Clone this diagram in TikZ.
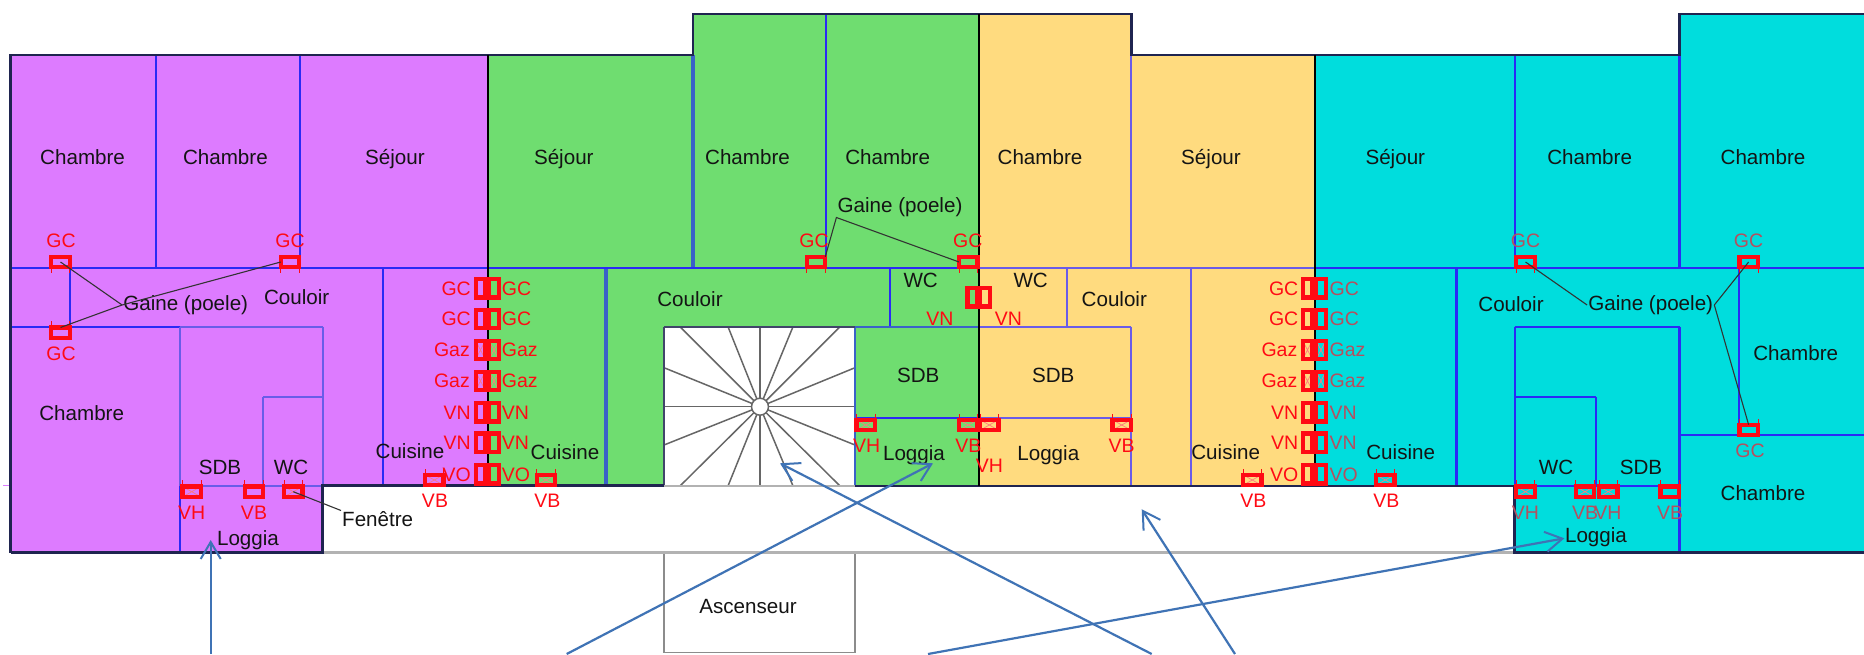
\documentclass[tikz,border=0pt]{standalone}
\usepackage{fontspec}
\setmainfont{Liberation Sans}
\usetikzlibrary{arrows.meta}
\definecolor{cpurple}{HTML}{DD7BFF}
\definecolor{cgreen}{HTML}{6FDD70}
\definecolor{cyellow}{HTML}{FFDB7F}
\definecolor{ccyan}{HTML}{00DDDD}
\definecolor{wallblue}{HTML}{2A2AF5}
\definecolor{softblue}{HTML}{6A5CE8}
\definecolor{thickblue}{HTML}{3A62C8}
\definecolor{darkwall}{HTML}{1F2450}
\definecolor{arrowblue}{HTML}{3F73B5}
\definecolor{greyline}{HTML}{8C8C8C}
\definecolor{mutedred}{HTML}{B5505F}
\definecolor{boxred}{HTML}{FF0A14}
\tikzset{
  room/.style={font=\fontsize{20.6}{24}\selectfont,text=black!92,inner sep=1pt},
  lab/.style={font=\fontsize{19.5}{22}\selectfont,text=boxred,inner sep=0pt},
  labc/.style={lab,text=mutedred},
  wall/.style={draw=wallblue,line width=2.1pt},
  softwall/.style={draw=softblue,line width=2.1pt},
  thickwall/.style={draw=thickblue,line width=3.6pt},
  outer/.style={draw=darkwall,line width=2.8pt},
  border/.style={draw=black,line width=2pt},
  grey/.style={draw=greyline,line width=1.6pt},
  lightgrey/.style={draw=black!30,line width=3pt},
  leader/.style={draw=black!80,line width=1.1pt},
  pointer/.style={draw=arrowblue,line width=2.2pt,-{Straight Barb[length=17pt,width=20pt,line width=2pt]}},
  basebox/.style={draw=boxred,line width=4.4pt,inner sep=0pt,outer sep=0pt,rectangle},
  hb/.style={basebox,minimum width=18.5pt,minimum height=10.5pt},
  vb/.style={basebox,minimum width=9.5pt,minimum height=18.5pt},
  xed/.style={path picture={\draw[boxred!55!white,line width=.7pt]
      (path picture bounding box.south west)--(path picture bounding box.north east)
      (path picture bounding box.north west)--(path picture bounding box.south east);}},
  tickup/.style={append after command={
      (\tikzlastnode.north west) edge[boxred,line width=.7pt] ([yshift=6pt]\tikzlastnode.north west)
      (\tikzlastnode.north east) edge[boxred,line width=.7pt] ([yshift=6pt]\tikzlastnode.north east)}},
  tickdown/.style={append after command={
      (\tikzlastnode.south west) edge[boxred,line width=.7pt] ([yshift=-6pt]\tikzlastnode.south west)
      (\tikzlastnode.south east) edge[boxred,line width=.7pt] ([yshift=-6pt]\tikzlastnode.south east)}},
  stair/.style={draw=black!60,line width=1.5pt},
}
\begin{document}
\begin{tikzpicture}[x=1pt,y=-1pt]
\useasboundingbox (0,0) rectangle (1864,654);
\fill[white] (0,0) rectangle (1864,654);
% apartments
\fill[cpurple] (10.7,55)--(487.5,55)--(487.5,485.7)--(322.7,485.7)--(322.7,552.7)--(10.7,552.7)--cycle;
\fill[cgreen] (487.5,55)--(693,55)--(693,14)--(979,14)--(979,486)--(855,486)--(855,326.7)--(664,326.7)--(664,486)--(487.5,486)--cycle;
\fill[cyellow] (979,14)--(1131.4,14)--(1131.4,55)--(1314.5,55)--(1314.5,486)--(979,486)--cycle;
\fill[ccyan] (1314.5,55)--(1679.5,55)--(1679.5,14)--(1864,14)--(1864,552.7)--(1514.7,552.7)--(1514.7,486)--(1314.5,486)--cycle;
% staircase
\foreach \ex/\ey in {680/326.7,728/326.7,760/326.7,793/326.7,840/326.7,
  664/367.7,664/406.7,664/445,855/367.7,855/406.7,855/445,
  680/486,728/486,760/486,793/486,840/486}
  \draw[stair] (760,406.7)--(\ex,\ey);
\draw[stair,fill=white] (760,406.7) circle (8.5);
% lift and corridor
\draw[grey,line width=1.8pt] (664,552.7)--(664,652.5)--(855,652.5)--(855,552.7);
\draw[lightgrey] (322.7,552.7)--(1514.7,552.7);
\draw[draw=cpurple,line width=.8pt] (3,485.7)--(10.7,485.7);
% inner walls: purple
\draw[wall] (156,55)--(156,268.3) (299.6,55)--(299.6,268.3) (70,268.3)--(70,326.7)
  (10.7,268.3)--(487.5,268.3) (382.7,268.3)--(382.7,485.7) (10.7,326.7)--(180,326.7) (180,485.7)--(180,552.7);
\draw[softwall] (180,326.7)--(322.7,326.7) (180,326.7)--(180,485.7) (322.7,326.7)--(322.7,485.7)
  (263.3,397.3)--(322.7,397.3) (263.3,397.3)--(263.3,485.7) (180,485.7)--(322.7,485.7);
% inner walls: green
\draw[thickwall] (693,55)--(693,268.3) (605.7,268.3)--(605.7,486);
\draw[wall] (826,14)--(826,268.3) (487.5,268.3)--(979,268.3) (890,268.3)--(890,326.7) (855,418.3)--(979,418.3);
\draw[thickblue,line width=2.2pt] (855,326.7)--(979,326.7) (855,326.7)--(855,486);
\draw[draw=darkwall!85!white,line width=1.8pt] (664,326.7)--(855,326.7) (664,326.7)--(664,486);
% inner walls: yellow
\draw[softwall] (1131.4,55)--(1131.4,268.3) (979,268.3)--(1314.5,268.3) (1066.7,268.3)--(1066.7,326.7)
  (979,326.7)--(1131,326.7) (1131,326.7)--(1131,486) (979,418.3)--(1131,418.3) (1190.7,268.3)--(1190.7,486);
% inner walls: cyan
\draw[wall] (1514.7,55)--(1514.7,268.3) (1679.5,14)--(1679.5,268.3) (1314.5,268.3)--(1864,268.3)
  (1456.5,268.3)--(1456.5,486) (1514.7,326.7)--(1514.7,486) (1514.7,326.7)--(1679.5,326.7)
  (1679.5,326.7)--(1679.5,552.7) (1514.7,397.3)--(1596,397.3) (1596,397.3)--(1596,486)
  (1514.7,486)--(1679.5,486) (1679.5,435)--(1864,435) (1738.8,268.3)--(1738.8,435);
% outer walls
\draw[outer] (10.7,552.7)--(10.7,55)--(693,55)--(693,14)--(1131.4,14)--(1131.4,55)--(1679.5,55)--(1679.5,14)--(1864,14);
\draw[outer] (10.7,552.7)--(322.7,552.7)--(322.7,485.7)--(664,485.7);
\draw[outer] (855,486)--(1514.7,486)--(1514.7,552.7)--(1864,552.7);
\draw[lightgrey,line width=1.8pt] (664,486)--(855,486);
\draw[border] (487.5,55)--(487.5,486) (979,14)--(979,486) (1314.5,55)--(1314.5,486);
% ducts on the walls
\node[hb,tickdown] (gc1) at (60.5,262) {};
\node[hb,tickdown] (gc2) at (290,262) {};
\node[hb,tickup] (gc3) at (60.5,332.7) {};
\node[hb,xed,tickup] (pvh) at (191.7,491.7) {};
\node[hb,tickup] (pvb) at (254,491.7) {};
\node[hb,xed,tickup] (fx) at (293.3,491.7) {};
\node[hb,xed,tickup] (pcb) at (434.3,480) {};
\node[hb,tickdown] (gc4) at (816,262) {};
\node[hb,tickdown] (gc5) at (968.3,262) {};
\node[hb,xed,tickup] (gcb) at (546,480) {};
\node[hb,xed,tickup] (gvh) at (865.7,425) {};
\node[hb,xed,tickup] (gvb) at (968.3,425) {};
\node[hb,xed,tickup] (yvh) at (989.3,425) {};
\node[hb,xed,tickup] (yvb) at (1121.7,425) {};
\node[hb,xed,tickup] (ycb) at (1252.3,480) {};
\node[hb,tickdown] (gc6) at (1525.5,262) {};
\node[hb,tickdown] (gc7) at (1748.6,262) {};
\node[hb,tickup] (gc8) at (1748.6,430) {};
\node[hb,xed,tickup] (ccb) at (1385.3,480) {};
\node[hb,xed,tickup] (cvh) at (1525.5,491.7) {};
\node[hb,xed,tickup] (cvb) at (1585,491.7) {};
\node[hb,xed,tickup] (cvh2) at (1608.3,491.7) {};
\node[hb,tickup] (cvb2) at (1669.8,491.7) {};
\node[vb] (vnl) at (972.3,297.3) {};
\node[vb] (vnr) at (985,297.3) {};
% stack purple/green
\node[vb] (a1) at (480.5,288.3) {}; \node[vb] (b1) at (494,288.3) {};
\node[vb] (a2) at (480.5,319) {};   \node[vb] (b2) at (494,319) {};
\node[vb,xed] (a3) at (480.5,350) {}; \node[vb,xed] (b3) at (494,350) {};
\node[vb,xed] (a4) at (480.5,381) {}; \node[vb,xed] (b4) at (494,381) {};
\node[vb] (a5) at (480.5,412.3) {}; \node[vb] (b5) at (494,412.3) {};
\node[vb] (a6) at (480.5,442.7) {}; \node[vb] (b6) at (494,442.7) {};
\node[vb] (a7) at (480.5,474.3) {}; \node[vb] (b7) at (494,474.3) {};
% stack yellow/cyan
\node[vb] (c1) at (1307.5,288.3) {}; \node[vb] (d1) at (1321,288.3) {};
\node[vb] (c2) at (1307.5,319) {};   \node[vb] (d2) at (1321,319) {};
\node[vb,xed] (c3) at (1307.5,350) {}; \node[vb,xed] (d3) at (1321,350) {};
\node[vb,xed] (c4) at (1307.5,381) {}; \node[vb,xed] (d4) at (1321,381) {};
\node[vb] (c5) at (1307.5,412.3) {}; \node[vb] (d5) at (1321,412.3) {};
\node[vb] (c6) at (1307.5,442.7) {}; \node[vb] (d6) at (1321,442.7) {};
\node[vb] (c7) at (1307.5,474.3) {}; \node[vb] (d7) at (1321,474.3) {};
% red labels
\node[lab] (l1) at (61,240.7) {GC};
\node[lab] (l2) at (290,240.7) {GC};
\node[lab] (l3) at (61,354) {GC};
\node[lab] (l4) at (191.7,513) {VH};
\node[lab] (l5) at (254,513) {VB};
\node[lab] (l6) at (435,500.7) {VB};
\node[lab] (l7) at (547.3,500.7) {VB};
\node[lab] (l8) at (814,240.7) {GC};
\node[lab] (l9) at (967.7,240.7) {GC};
\node[lab] (l10) at (866.7,446) {VH};
\node[lab] (l11) at (968.3,446) {VB};
\node[lab] (l12) at (989.3,465.7) {VH};
\node[lab] (l13) at (1121.7,446) {VB};
\node[lab] (l14) at (1253.3,500.7) {VB};
\node[lab] (l15) at (940,318.3) {VN};
\node[lab] (l16) at (1008.3,318.3) {VN};
\node[labc] (l17) at (1525.5,240.7) {GC};
\node[labc] (l18) at (1748.6,240.7) {GC};
\node[labc] (l19) at (1750,450.7) {GC};
\node[lab] (l20) at (1386.3,500.7) {VB};
\node[labc] (l21) at (1525.5,513) {VH};
\node[labc] (l22) at (1585,513) {VB};
\node[labc] (l23) at (1608,513) {VH};
\node[labc] (l24) at (1670,513) {VB};
\node[lab,anchor=east] (p1) at (471,288.3) {GC};
\node[lab,anchor=east] (p2) at (471,319) {GC};
\node[lab,anchor=east] (p3) at (470,350) {Gaz};
\node[lab,anchor=east] (p4) at (470,381) {Gaz};
\node[lab,anchor=east] (p5) at (471,412.3) {VN};
\node[lab,anchor=east] (p6) at (471,442.7) {VN};
\node[lab,anchor=east] (p7) at (471,474.3) {VO};
\node[lab,anchor=west] (q1) at (501.7,288.3) {GC};
\node[lab,anchor=west] (q2) at (501.7,319) {GC};
\node[lab,anchor=west] (q3) at (501.7,350) {Gaz};
\node[lab,anchor=west] (q4) at (501.7,381) {Gaz};
\node[lab,anchor=west] (q5) at (501.7,412.3) {VN};
\node[lab,anchor=west] (q6) at (501.7,442.7) {VN};
\node[lab,anchor=west] (q7) at (501.7,474.3) {VO};
\node[lab,anchor=east] (r1) at (1298.5,288.3) {GC};
\node[lab,anchor=east] (r2) at (1298.5,319) {GC};
\node[lab,anchor=east] (r3) at (1297.5,350) {Gaz};
\node[lab,anchor=east] (r4) at (1297.5,381) {Gaz};
\node[lab,anchor=east] (r5) at (1298.5,412.3) {VN};
\node[lab,anchor=east] (r6) at (1298.5,442.7) {VN};
\node[lab,anchor=east] (r7) at (1298.5,474.3) {VO};
\node[labc,anchor=west] (s1) at (1329.5,288.3) {GC};
\node[labc,anchor=west] (s2) at (1329.5,319) {GC};
\node[labc,anchor=west] (s3) at (1329.5,350) {Gaz};
\node[labc,anchor=west] (s4) at (1329.5,381) {Gaz};
\node[labc,anchor=west] (s5) at (1329.5,412.3) {VN};
\node[labc,anchor=west] (s6) at (1329.5,442.7) {VN};
\node[labc,anchor=west] (s7) at (1329.5,474.3) {VO};
% room names
\node[room] (t1) at (82.6,156.7) {Chambre};
\node[room] (t2) at (225.4,156.7) {Chambre};
\node[room] (t3) at (395,159) {Séjour};
\node[room] (t4) at (563.8,159) {Séjour};
\node[room] (t5) at (747.5,156.7) {Chambre};
\node[room] (t6) at (887.7,156.7) {Chambre};
\node[room] (t7) at (1040,156.7) {Chambre};
\node[room] (t8) at (1211,159) {Séjour};
\node[room] (t9) at (1395.3,159) {Séjour};
\node[room] (t10) at (1589.6,156.7) {Chambre};
\node[room] (t11) at (1763,156.7) {Chambre};
\node[room] (t12) at (81.7,412.7) {Chambre};
\node[room] (t13) at (296.7,296.7) {Couloir};
\node[room] (t14) at (220,467.7) {SDB};
\node[room] (t15) at (291,467.7) {WC};
\node[room] (t16) at (248,540.5) {Loggia};
\node[room] (t17) at (410,451) {Cuisine};
\node[room] (t18) at (565,451.7) {Cuisine};
\node[room] (t19) at (690,299.3) {Couloir};
\node[room] (t20) at (748,606.7) {Ascenseur};
\node[room] (t21) at (920.7,280) {WC};
\node[room] (t22) at (1030.7,280) {WC};
\node[room] (t23) at (918.3,375.7) {SDB};
\node[room] (t24) at (1053.3,375.7) {SDB};
\node[room] (t25) at (914,454.8) {Loggia};
\node[room] (t26) at (1048.3,454.8) {Loggia};
\node[room] (t27) at (1114.3,299.3) {Couloir};
\node[room] (t28) at (1225.7,451.7) {Cuisine};
\node[room] (t29) at (1400.7,451.7) {Cuisine};
\node[room] (t30) at (1511,304.3) {Couloir};
\node[room] (t31) at (1795.7,352.7) {Chambre};
\node[room] (t32) at (1763,493.3) {Chambre};
\node[room] (t33) at (1556,467.7) {WC};
\node[room] (t34) at (1641,467.7) {SDB};
\node[room] (t35) at (1596,537.2) {Loggia};
\node[room] (fen) at (377.7,519.3) {Fenêtre};
\node[room] (gaineP) at (185.7,305) {Gaine (poele)};
\node[room] (gaineG) at (900,206.7) {Gaine (poele)};
\node[room] (gaineC) at (1650.7,305) {Gaine (poele)};
% leaders
\draw[leader] (gc1.center)--(gaineP.west);
\draw[leader] (gc3.north)--(gaineP.west)--(gc2.west);
\draw[leader] (fx.center)--(fen.north west);
\draw[leader] (gc4.north east)--(gaineG.south west)--(gc5.west);
\draw[leader] (gc6.center)--(gaineC.west);
\draw[leader] (gaineC.east)--(gc7.center);
\draw[leader] (gaineC.east)--(gc8.north);
% pointers
\coordinate (tailA) at (210.7,654);
\coordinate (headA) at (210.7,540);
\coordinate (tailB) at (566.7,654);
\coordinate (headB) at (933,463.3);
\coordinate (tailC) at (928,654);
\coordinate (headC) at (1564.4,538.3);
\coordinate (tailD) at (1151.7,654);
\coordinate (headD) at (780,463.3);
\coordinate (tailE) at (1235,654);
\coordinate (headE) at (1141.7,509.3);
\draw[pointer] (tailA)--(headA);
\draw[pointer] (tailB)--(headB);
\draw[pointer] (tailC)--(headC);
\draw[pointer] (tailD)--(headD);
\draw[pointer] (tailE)--(headE);
\end{tikzpicture}
\end{document}
